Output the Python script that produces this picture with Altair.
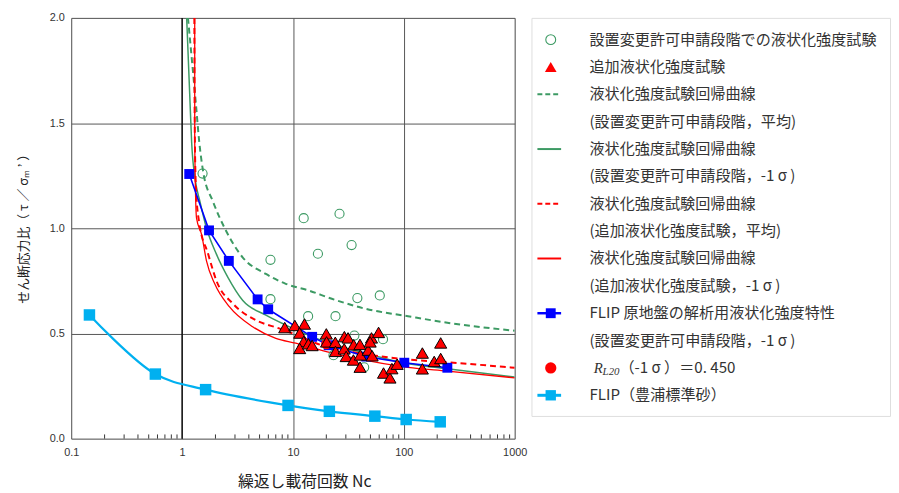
import altair as alt
import pandas as pd

# ---------------- data ----------------
# FLIP original ground design strength (blue squares)
flip_nc = [1.16, 1.75, 2.64, 4.8, 5.98, 14.9, 21.0, 45.8, 101, 247]
flip_r = [1.258, 0.99, 0.845, 0.662, 0.615, 0.484, 0.444, 0.39, 0.361, 0.337]

# FLIP Toyoura standard sand (light blue squares)
toyo_nc = [0.146, 0.574, 1.63, 9.03, 21.3, 54.8, 105, 213]
toyo_r = [0.588, 0.307, 0.233, 0.158, 0.13, 0.107, 0.091, 0.08]

# Tests at the permit-application stage (green open circles)
circ_nc = [1.53, 12.5, 26.3, 16.8, 33.8, 6.27, 6.27, 38.1, 60.7, 13.7, 24.2, 35.8, 64.9, 23.2, 43.9]
circ_r = [1.26, 1.048, 1.069, 0.879, 0.92, 0.85, 0.663, 0.668, 0.681, 0.582, 0.582, 0.49, 0.473, 0.397, 0.339]

# Additional liquefaction tests (red triangles)
tri_nc = [8.43, 10.4, 12.7, 11.5, 12.5, 11.5, 13.8, 14.9, 20.0, 20.1, 24.1, 24.2, 29.1, 31.4, 29.0,
          30.2, 35.3, 35.1, 40.2, 40.5, 40.3, 47.7, 51.8, 51.1, 49.7, 59.2, 65.6, 75.0, 78.1, 87.1,
          147, 147, 188, 215, 215]
tri_r = [0.528, 0.538, 0.545, 0.502, 0.462, 0.429, 0.451, 0.443, 0.498, 0.46, 0.458, 0.415, 0.485, 0.479, 0.427,
         0.391, 0.446, 0.374, 0.448, 0.398, 0.340, 0.421, 0.394, 0.479, 0.46, 0.505, 0.312, 0.289, 0.333, 0.354,
         0.407, 0.332, 0.367, 0.455, 0.381]

# Regression curves
gm_nc = [1.13, 1.33, 1.43, 1.55, 1.90, 2.42, 3.53, 5.70, 8.61, 13.9, 22.4, 44.6, 109, 247, 1000]
gm_r = [2.0, 1.596, 1.408, 1.268, 1.127, 1.001, 0.861, 0.783, 0.736, 0.704, 0.665, 0.618, 0.582, 0.551, 0.513]

gs_nc = [1.10, 1.18, 1.22, 1.31, 1.45, 1.66, 2.04, 2.59, 3.53, 5.70, 8.61, 19.6, 38.8, 101, 247, 1000]
gs_r = [2.0, 1.596, 1.408, 1.236, 1.127, 1.001, 0.877, 0.767, 0.657, 0.587, 0.540, 0.461, 0.415, 0.360, 0.332, 0.293]

rm_nc = [1.29, 1.30, 1.33, 1.42, 1.72, 2.04, 2.87, 4.64, 7.50, 9.86, 19.6, 38.8, 109, 247, 1000]
rm_r = [2.0, 1.502, 1.207, 1.033, 0.877, 0.751, 0.642, 0.563, 0.524, 0.501, 0.438, 0.407, 0.376, 0.363, 0.337]

rs_nc = [1.30, 1.30, 1.31, 1.35, 1.50, 1.66, 1.97, 2.68, 4.33, 7.01, 10.6, 19.6, 38.8, 109, 247, 1000]
rs_r = [2.0, 1.441, 1.283, 1.048, 0.970, 0.845, 0.736, 0.626, 0.532, 0.477, 0.454, 0.415, 0.379, 0.339, 0.321, 0.289]

# R_L20 point
rl_nc = [20]
rl_r = [0.450]

x_ticks = [0.1, 1, 10, 100, 1000]
y_ticks = [0.0, 0.5, 1.0, 1.5, 2.0]
minor_ticks = [m * d for d in [0.1, 1, 10, 100] for m in range(2, 10)]

legend_labels = [
    "設置変更許可申請段階での液状化強度試験",
    "追加液状化強度試験",
    "液状化強度試験回帰曲線",
    "(設置変更許可申請段階，平均)",
    "液状化強度試験回帰曲線",
    "(設置変更許可申請段階，-1 σ )",
    "液状化強度試験回帰曲線",
    "(追加液状化強度試験，平均)",
    "液状化強度試験回帰曲線",
    "(追加液状化強度試験，-1 σ )",
    "FLIP 原地盤の解析用液状化強度特性",
    "(設置変更許可申請段階，-1 σ )",
    "",
    "FLIP（豊浦標準砂）",
]

GREEN = "#3c9a63"
RED = "#ff0000"
BLUE = "#0000ff"
LBLUE = "#00b0f0"
JP = "Noto Sans CJK JP"

# ---------------- main plot ----------------
PW, PH = 449, 426
xs = alt.Scale(type="log", domain=[0.1, 1000])
ys = alt.Scale(domain=[0, 2])

X = alt.X("nc:Q", scale=xs, axis=alt.Axis(
    values=x_ticks, format="~g", title="繰返し載荷回数 Nc", grid=True, gridColor="#555",
    gridWidth=1, ticks=False, domain=False, labelFlush=False, labelFont="Liberation Sans",
    labelFontSize=11, labelColor="#333", labelPadding=8, titleFont=JP, titleFontSize=16,
    titleFontWeight="normal", titleColor="#222", titlePadding=16, titleX=236))
Y = alt.Y("r:Q", scale=ys, axis=alt.Axis(
    values=y_ticks, format=".1f", title="せん断応力比（ τ ／ σₘ ’ ）", grid=True, gridColor="#555",
    gridWidth=1, ticks=False, domain=False, labelFont="Liberation Sans", labelFontSize=11,
    labelColor="#333", labelPadding=7, titleFont=JP, titleFontSize=13, titleFontWeight="normal",
    titleColor="#222", titlePadding=19, titleY=210))


def df(nc, r):
    return pd.DataFrame({"nc": nc, "r": r})


minor = alt.Chart(pd.DataFrame({"nc": minor_ticks, "r": 0.0, "r2": 0.02})).mark_rule(
    color="#333", strokeWidth=1).encode(x=X, y=Y, y2="r2:Q")

one_line = alt.Chart(pd.DataFrame({"nc": [1]})).mark_rule(color="#000", strokeWidth=1.3).encode(x=X)


def curve(nc, r, color, dash=None, width=1.5):
    kw = dict(color=color, strokeWidth=width, interpolate="monotone", clip=True)
    if dash:
        kw["strokeDash"] = dash
    return alt.Chart(df(nc, r)).mark_line(**kw).encode(x=X, y=Y)


c_gm = curve(gm_nc, gm_r, GREEN, [6, 4], 2)
c_gs = curve(gs_nc, gs_r, GREEN, None, 1.5)
c_rm = curve(rm_nc, rm_r, RED, [6, 4], 2)
c_rs = curve(rs_nc, rs_r, RED, None, 1.3)

circles = alt.Chart(df(circ_nc, circ_r)).mark_point(
    shape="circle", filled=False, color=GREEN, size=85, strokeWidth=1.1, opacity=1).encode(x=X, y=Y)

toyo_line = alt.Chart(df(toyo_nc, toyo_r)).mark_line(
    color=LBLUE, strokeWidth=2.2, interpolate="catmull-rom").encode(x=X, y=Y)
toyo_pts = alt.Chart(df(toyo_nc, toyo_r)).mark_point(
    shape="square", filled=True, color=LBLUE, size=135, opacity=1).encode(x=X, y=Y)

flip_line = alt.Chart(df(flip_nc, flip_r)).mark_line(color=BLUE, strokeWidth=1.6).encode(x=X, y=Y)
flip_pts = alt.Chart(df(flip_nc, flip_r)).mark_point(
    shape="square", filled=True, color=BLUE, size=100, opacity=1).encode(x=X, y=Y)

rl_pt = alt.Chart(df(rl_nc, rl_r)).mark_point(
    shape="circle", filled=True, color=RED, size=110, opacity=1).encode(x=X, y=Y)

tris = alt.Chart(df(tri_nc, tri_r)).mark_point(
    shape="triangle-up", filled=True, fill=RED, stroke="#000", strokeWidth=1, size=150, opacity=1
).encode(x=X, y=Y)

main = alt.layer(
    minor, one_line, c_gm, c_gs, c_rm, c_rs, circles, toyo_line, toyo_pts,
    flip_line, flip_pts, rl_pt, tris
).properties(width=PW, height=PH)

# ---------------- legend panel ----------------
LW, LH = 363, 403
row_y = [22.0 + 27.7 * i for i in range(len(legend_labels))]
lx = alt.X("x:Q", scale=alt.Scale(domain=[0, LW]), axis=None)
lx2 = alt.X2("x2:Q")
ly = alt.Y("y:Q", scale=alt.Scale(domain=[LH, 0]), axis=None)

leg_text = alt.Chart(pd.DataFrame({"x": 58.7, "y": row_y, "t": legend_labels})).mark_text(
    align="left", baseline="middle", font=JP, fontSize=15.3, color="#333").encode(x=lx, y=ly, text="t:N")

sym_x = 19.5
leg_circle = alt.Chart(pd.DataFrame({"x": [sym_x], "y": [row_y[0]]})).mark_point(
    shape="circle", filled=False, color=GREEN, size=100, strokeWidth=1.1, opacity=1).encode(x=lx, y=ly)
leg_tri = alt.Chart(pd.DataFrame({"x": [sym_x], "y": [row_y[1]]})).mark_point(
    shape="triangle-up", filled=True, color=RED, size=140, opacity=1).encode(x=lx, y=ly)


def leg_line(rows, color, dash=None, width=2):
    kw = dict(color=color, strokeWidth=width)
    if dash:
        kw["strokeDash"] = dash
    d = pd.DataFrame({"x": 6.0, "x2": 30.0, "y": [row_y[i] for i in rows]})
    return alt.Chart(d).mark_rule(**kw).encode(x=lx, x2=lx2, y=ly)


leg_gm = leg_line([2], GREEN, [5, 3])
leg_gs = leg_line([4], GREEN)
leg_rm = leg_line([6], RED, [5, 3])
leg_rs = leg_line([8], RED)
leg_bl = leg_line([10], BLUE, None, 2.5)
leg_lb = leg_line([13], LBLUE, None, 3)
leg_bsq = alt.Chart(pd.DataFrame({"x": [sym_x], "y": [row_y[10]]})).mark_point(
    shape="square", filled=True, color=BLUE, size=100, opacity=1).encode(x=lx, y=ly)
leg_lsq = alt.Chart(pd.DataFrame({"x": [sym_x], "y": [row_y[13]]})).mark_point(
    shape="square", filled=True, color=LBLUE, size=110, opacity=1).encode(x=lx, y=ly)
leg_rc = alt.Chart(pd.DataFrame({"x": [sym_x], "y": [row_y[12]]})).mark_point(
    shape="circle", filled=True, color=RED, size=130, opacity=1).encode(x=lx, y=ly)

leg_R = alt.Chart(pd.DataFrame({"x": [63.0], "y": [row_y[12]], "t": ["R"]})).mark_text(
    align="left", baseline="middle", font="Liberation Serif", fontStyle="italic", fontSize=15,
    color="#333").encode(x=lx, y=ly, text="t:N")
leg_L20 = alt.Chart(pd.DataFrame({"x": [72.0], "y": [row_y[12] + 4], "t": ["L20"]})).mark_text(
    align="left", baseline="middle", font="Liberation Serif", fontStyle="italic", fontSize=11,
    color="#333").encode(x=lx, y=ly, text="t:N")
leg_rl_txt = alt.Chart(pd.DataFrame({"x": [89.0], "y": [row_y[12]], "t": ["（-1 σ ）＝0. 450"]})).mark_text(
    align="left", baseline="middle", font=JP, fontSize=15.3, color="#333").encode(x=lx, y=ly, text="t:N")

legend = alt.layer(
    leg_text, leg_circle, leg_tri, leg_gm, leg_gs, leg_rm, leg_rs, leg_bl, leg_lb,
    leg_bsq, leg_lsq, leg_rc, leg_R, leg_L20, leg_rl_txt
).properties(width=LW, height=LH)

chart = alt.hconcat(main, legend, spacing=17, bounds="flush").properties(
    padding={"left": 9, "top": 0, "right": 0, "bottom": 0}
).configure_view(stroke="#111", strokeWidth=1.5).configure(background="white")

chart.save("out.html", embed_options={"renderer": "svg", "actions": False})
